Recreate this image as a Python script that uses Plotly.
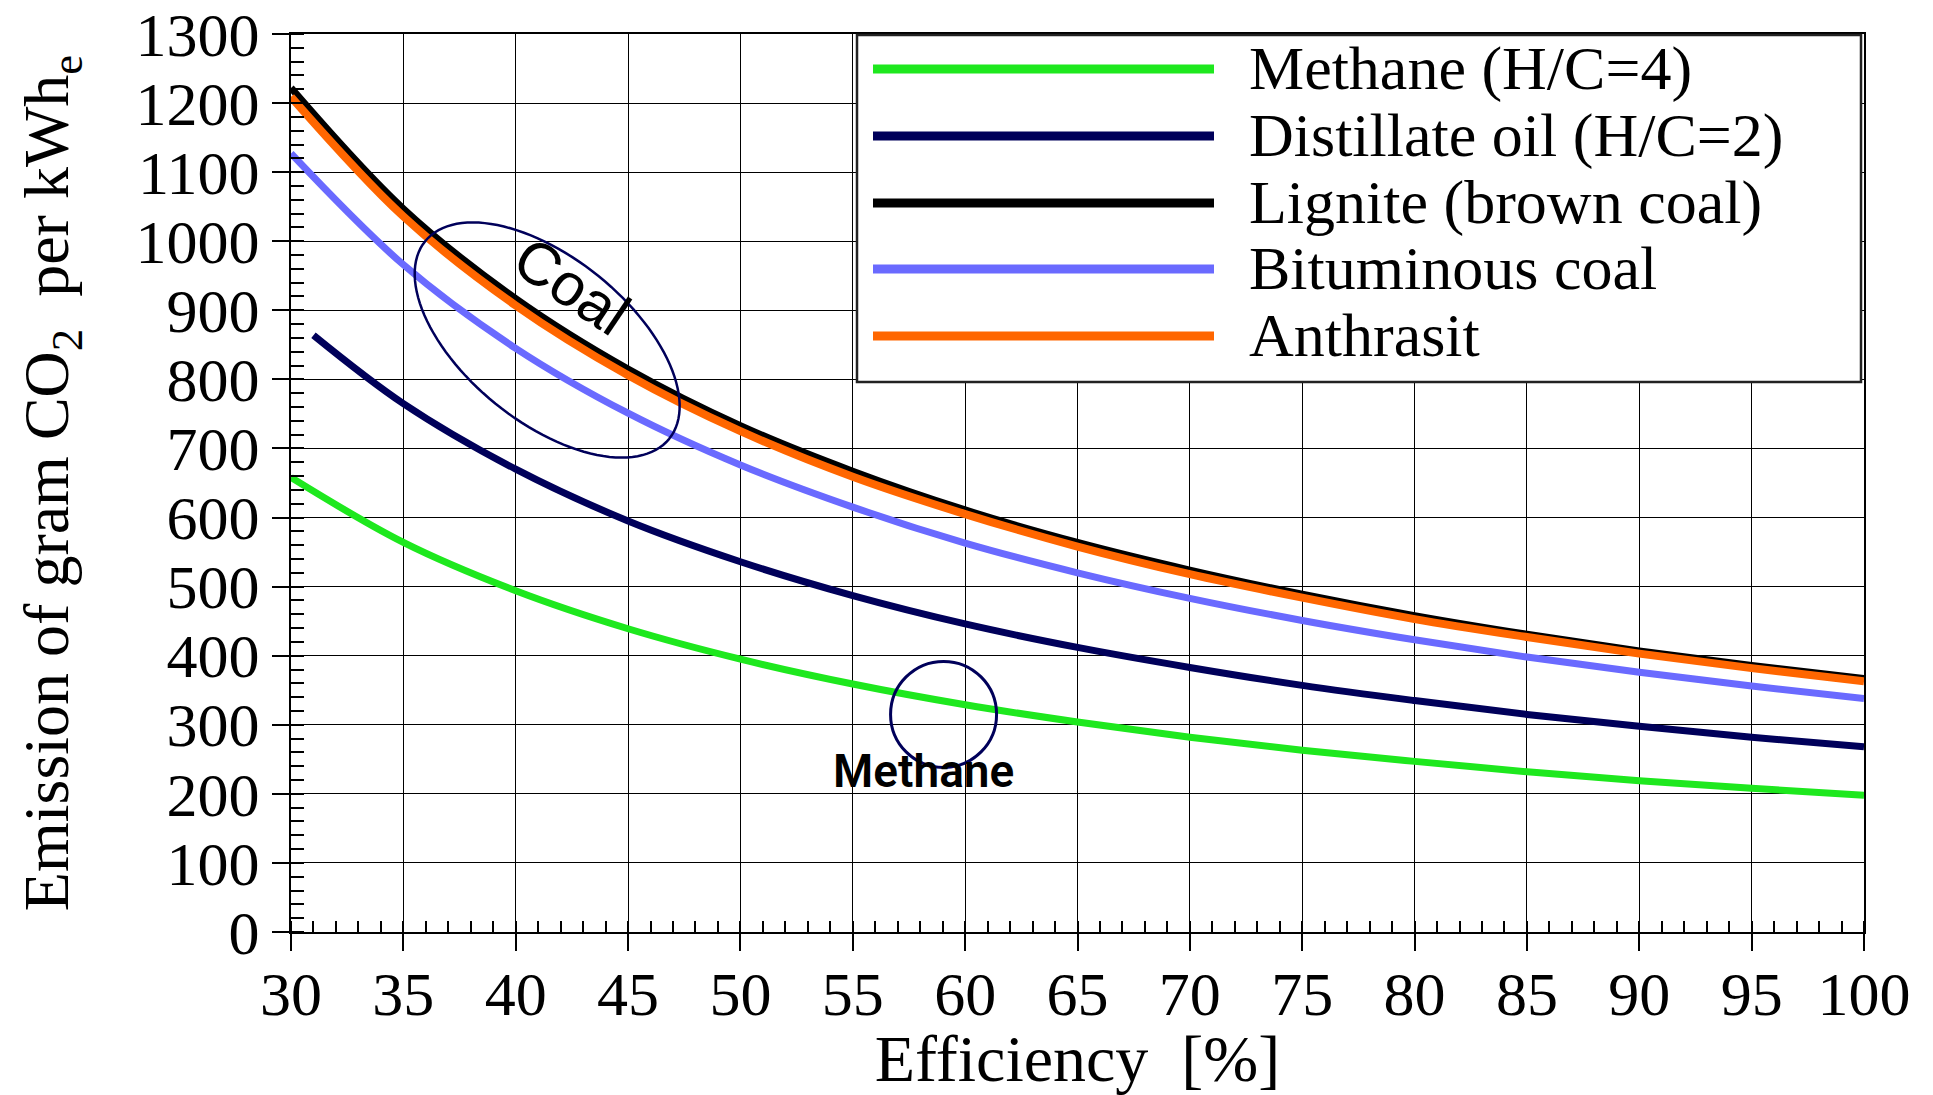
import numpy as np
import plotly.graph_objects as go

# ---------------- data ----------------
efficiency = [30, 35, 40, 45, 50, 55, 60, 65, 70, 75, 80, 85, 90, 95, 100]
efficiency_oil = [31, 35, 40, 45, 50, 55, 60, 65, 70, 75, 80, 85, 90, 95, 100]

methane = [658, 564, 494, 439, 395, 359, 329, 304, 282, 263, 247, 232, 219, 208, 198]
distillate_oil = [864, 765, 670, 595, 536, 487, 446, 412, 383, 357, 335, 315, 298, 282, 268]
lignite = [1222, 1047, 917, 815, 733, 667, 611, 564, 524, 489, 458, 431, 407, 386, 367]
bituminous = [1127, 966, 845, 751, 676, 615, 563, 520, 483, 451, 423, 398, 376, 356, 338]
anthrasit = [1209, 1036, 907, 806, 725, 659, 605, 558, 518, 484, 453, 427, 403, 382, 363]

series_names = ["Methane (H/C=4)", "Distillate oil (H/C=2)", "Lignite (brown coal)",
                "Bituminous coal", "Anthrasit"]
series_colors = ["#1ee81e", "#00005a", "#000000", "#6a6aff", "#ff6600"]

x_tick_vals = list(range(30, 101, 5))
y_tick_vals = list(range(0, 1301, 100))

# ---------------- layout geometry ----------------
W, H = 1933, 1095
PL, PR, PT, PB = 291, 1864, 34, 932          # plot area in page pixels
X_RANGE = [30, 100]
Y_RANGE = [0, 1300]
px_per_x = (PR - PL) / (X_RANGE[1] - X_RANGE[0])
px_per_y = (PB - PT) / (Y_RANGE[1] - Y_RANGE[0])

SERIF = "Liberation Serif, Times New Roman, serif"
NAVY = "#00005a"

fig = go.Figure()

series = [
    (efficiency, methane, 7),
    (efficiency_oil, distillate_oil, 7),
    (efficiency, lignite, 7),
    (efficiency, bituminous, 7),
    (efficiency, anthrasit, 8),
]
for (xs, ys, lw), name, col in zip(series, series_names, series_colors):
    fig.add_trace(go.Scatter(
        x=xs, y=ys, name=name, mode="lines",
        line=dict(color=col, width=lw, shape="spline", smoothing=1.0),
        showlegend=False, hoverinfo="x+y+name",
    ))

# ---------------- annotation shapes ----------------
# rotated ellipse around the coal curves (defined in pixel offsets, mapped to data)
cx, cy = 41.4, 857.0           # centre in data units
a_px, b_px, theta = 157.0, 82.0, np.deg2rad(39.0)
t = np.linspace(0, 2 * np.pi, 121)
dx = a_px * np.cos(t) * np.cos(theta) - b_px * np.sin(t) * np.sin(theta)
dy = a_px * np.cos(t) * np.sin(theta) + b_px * np.sin(t) * np.cos(theta)
ex = cx + dx / px_per_x
ey = cy - dy / px_per_y
path = "M " + " L ".join(f"{x:.4f},{y:.3f}" for x, y in zip(ex, ey)) + " Z"
shapes = [dict(type="path", path=path, xref="x", yref="y",
               line=dict(color=NAVY, width=2.5), layer="above")]

# circle around the methane curve
mcx, mcy, r_px = 59.04, 315.0, 53.0
shapes.append(dict(type="circle", xref="x", yref="y",
                   x0=mcx - r_px / px_per_x, x1=mcx + r_px / px_per_x,
                   y0=mcy - r_px / px_per_y, y1=mcy + r_px / px_per_y,
                   line=dict(color=NAVY, width=3), layer="above"))

# ---------------- custom legend ----------------
def paper_x(px):
    return (px - PL) / (PR - PL)

def paper_y(py):
    return (PB - py) / (PB - PT)

shapes.append(dict(type="rect", xref="paper", yref="paper",
                   x0=paper_x(857), x1=paper_x(1861), y0=paper_y(382), y1=paper_y(35),
                   line=dict(color="#222222", width=2.5), fillcolor="white", layer="above"))
row_y = [69, 136, 203, 269, 336]
annotations = []
for name, col, ry in zip(series_names, series_colors, row_y):
    shapes.append(dict(type="line", xref="paper", yref="paper",
                       x0=paper_x(873), x1=paper_x(1214), y0=paper_y(ry), y1=paper_y(ry),
                       line=dict(color=col, width=9), layer="above"))
    annotations.append(dict(xref="paper", yref="paper", x=paper_x(1247), y=paper_y(ry - 1),
                            text=name, showarrow=False, xanchor="left", yanchor="middle",
                            font=dict(family=SERIF, size=62, color="black")))

annotations.append(dict(xref="x", yref="y", x=42.5, y=935, text="Coal", showarrow=False,
                        textangle=34,
                        font=dict(family="Liberation Sans, Arial, sans-serif", size=60, color="black")))
annotations.append(dict(xref="x", yref="y", x=58.13, y=233, text="Methane", showarrow=False,
                        font=dict(family="Roboto, Liberation Sans, sans-serif", weight=600,
                                  size=46, color="black")))

axis_common = dict(
    showline=True, linecolor="black", linewidth=2, mirror=True,
    showgrid=True, gridcolor="black", gridwidth=1.4,
    ticks="outside", ticklen=17, tickwidth=1.5, tickcolor="black",
    tickfont=dict(family=SERIF, size=62, color="black"),
    zeroline=False, automargin=False,
)

fig.update_layout(
    width=W, height=H, autosize=False,
    margin=dict(l=PL, r=W - PR, t=PT, b=H - PB, pad=0),
    paper_bgcolor="white", plot_bgcolor="white",
    shapes=shapes, annotations=annotations,
    xaxis=dict(range=X_RANGE, tickvals=x_tick_vals, **axis_common,
               ticklabelstandoff=-10,
               minor=dict(dtick=1, ticks="inside", ticklen=11, tickwidth=1.5,
                          tickcolor="black", showgrid=False),
               title=dict(text="Efficiency\u00a0\u00a0[%]",
                          font=dict(family=SERIF, size=66, color="black"),
                          standoff=4)),
    yaxis=dict(range=Y_RANGE, tickvals=y_tick_vals, **axis_common,
               minor=dict(dtick=20, ticks="inside", ticklen=13, tickwidth=1.5,
                          tickcolor="black", showgrid=False),
               title=dict(text="Emission of gram CO<sub>2</sub>  per kWh<sub>e</sub>",
                          font=dict(family=SERIF, size=64, color="black"), standoff=46)),
    showlegend=False,
)

fig.write_html("out.html", config={"displayModeBar": False},
               post_script="document.body.style.margin='0';document.body.style.overflow='hidden';")
